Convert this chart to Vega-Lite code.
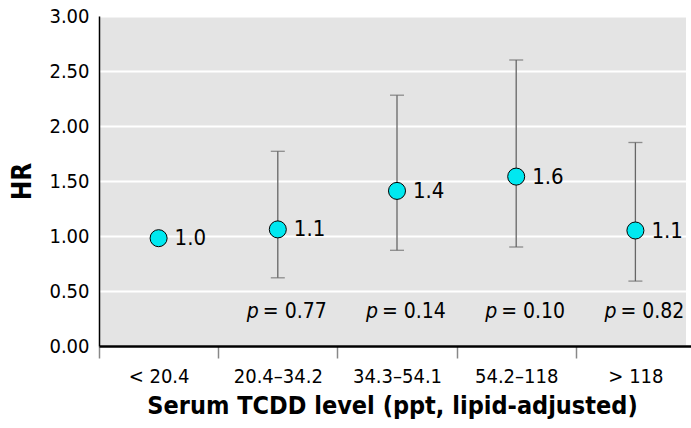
{
  "$schema": "https://vega.github.io/schema/vega-lite/v6.json",
  "autosize": "none",
  "width": 587,
  "height": 330,
  "padding": {"left": 99, "top": 16, "right": 5, "bottom": 82},
  "background": "white",
  "config": {
    "view": {"fill": "#e4e4e4", "stroke": null},
    "font": "DejaVu Sans Condensed, Roboto"
  },
  "data": {
    "values": [
      {"level": "< 20.4", "hr": 0.98, "lo": null, "hi": null, "label": "1.0", "p": null, "pos": 0.31},
      {"level": "20.4–34.2", "hr": 1.06, "lo": 0.62, "hi": 1.77, "label": "1.1", "p": "= 0.77", "pos": 0.31},
      {"level": "34.3–54.1", "hr": 1.41, "lo": 0.87, "hi": 2.28, "label": "1.4", "p": "= 0.14", "pos": 0.31},
      {"level": "54.2–118", "hr": 1.54, "lo": 0.90, "hi": 2.60, "label": "1.6", "p": "= 0.10", "pos": 0.31},
      {"level": "> 118", "hr": 1.05, "lo": 0.59, "hi": 1.85, "label": "1.1", "p": "= 0.82", "pos": 0.31}
    ]
  },
  "encoding": {
    "x": {
      "field": "level",
      "type": "nominal",
      "sort": ["< 20.4", "20.4–34.2", "34.3–54.1", "54.2–118", "> 118"],
      "scale": {"paddingInner": 0, "paddingOuter": 0, "range": [0, 596]},
      "axis": {
        "title": "Serum TCDD level (ppt, lipid-adjusted)",
        "titleFontSize": 25,
        "titleFontWeight": "bold",
        "titleColor": "black",
        "titlePadding": 7,
        "titleX": 293,
        "labelAngle": 0,
        "labelFontSize": 20,
        "labelColor": "black",
        "labelPadding": 8,
        "tickBand": "extent",
        "tickColor": "#888888",
        "tickSize": 12,
        "tickWidth": 1.5,
        "domainColor": "black",
        "domainWidth": 2.5,
        "grid": false
      }
    }
  },
  "layer": [
    {
      "mark": {"type": "rule", "color": "#666666", "strokeWidth": 1.3},
      "encoding": {
        "y": {
          "field": "lo",
          "type": "quantitative",
          "scale": {"domain": [0, 3]},
          "axis": {
            "title": "HR",
            "titleFontSize": 26,
            "titleFontWeight": "bold",
            "titleColor": "black",
            "titlePadding": 13,
            "values": [0, 0.5, 1, 1.5, 2, 2.5, 3],
            "format": ".2f",
            "labelFontSize": 20,
            "labelColor": "black",
            "labelPadding": 10,
            "ticks": false,
            "domainColor": "black",
            "domainWidth": 1.5,
            "gridColor": "white",
            "gridWidth": 2
          }
        },
        "y2": {"field": "hi"}
      }
    },
    {
      "mark": {"type": "tick", "color": "#666666", "size": 14, "thickness": 1.3},
      "encoding": {"y": {"field": "lo", "type": "quantitative"}}
    },
    {
      "mark": {"type": "tick", "color": "#666666", "size": 14, "thickness": 1.3},
      "encoding": {"y": {"field": "hi", "type": "quantitative"}}
    },
    {
      "mark": {"type": "point", "filled": true, "fill": "#00e8f0", "stroke": "black", "strokeWidth": 1, "size": 290, "opacity": 1},
      "encoding": {"y": {"field": "hr", "type": "quantitative"}}
    },
    {
      "mark": {"type": "text", "align": "left", "baseline": "middle", "dx": 16, "fontSize": 22, "color": "black"},
      "encoding": {
        "y": {"field": "hr", "type": "quantitative"},
        "text": {"field": "label"}
      }
    },
    {
      "transform": [{"filter": "datum.p != null"}],
      "mark": {"type": "text", "align": "center", "baseline": "middle", "dx": -25, "fontSize": 21, "fontStyle": "italic", "color": "black"},
      "encoding": {
        "y": {"field": "pos", "type": "quantitative"},
        "text": {"value": "p"}
      }
    },
    {
      "transform": [{"filter": "datum.p != null"}],
      "mark": {"type": "text", "align": "left", "baseline": "middle", "dx": -15, "fontSize": 21, "color": "black"},
      "encoding": {
        "y": {"field": "pos", "type": "quantitative"},
        "text": {"field": "p"}
      }
    }
  ]
}
